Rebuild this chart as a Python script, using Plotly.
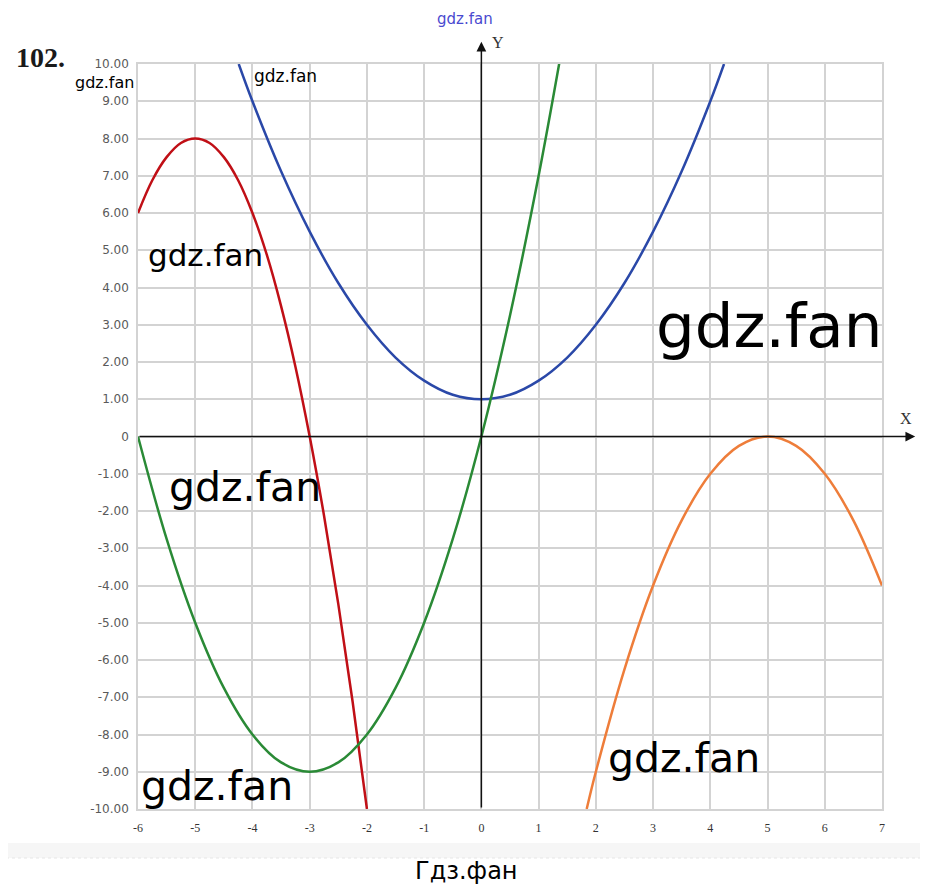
import plotly.graph_objects as go

# values
red_x = [-6, -5.75, -5.5, -5.25, -5, -4.75, -4.5, -4.25, -4, -3.75, -3.5, -3.25, -3, -2.75, -2.5, -2.25, -2]
red_y = [6, 6.88, 7.5, 7.88, 8, 7.88, 7.5, 6.88, 6, 4.88, 3.5, 1.88, 0, -2.12, -4.5, -7.12, -10]

blue_x = [-4.24, -4, -3.5, -3, -2.5, -2, -1.5, -1, -0.5, 0, 0.5, 1, 1.5, 2, 2.5, 3, 3.5, 4, 4.24]
blue_y = [10, 9, 7.12, 5.5, 4.12, 3, 2.12, 1.5, 1.12, 1, 1.12, 1.5, 2.12, 3, 4.12, 5.5, 7.12, 9, 10]

green_x = [-6, -5.5, -5, -4.5, -4, -3.5, -3, -2.5, -2, -1.5, -1, -0.5, 0, 0.5, 1, 1.37]
green_y = [0, -2.75, -5, -6.75, -8, -8.75, -9, -8.75, -8, -6.75, -5, -2.75, 0, 3.25, 7, 10.1]

orange_x = [1.84, 2, 2.5, 3, 3.5, 4, 4.5, 5, 5.5, 6, 6.5, 7]
orange_y = [-10, -9, -6.25, -4, -2.25, -1, -0.25, 0, -0.25, -1, -2.25, -4]

x_ticks = [-6, -5, -4, -3, -2, -1, 0, 1, 2, 3, 4, 5, 6, 7]
y_ticks = [10, 9, 8, 7, 6, 5, 4, 3, 2, 1, 0, -1, -2, -3, -4, -5, -6, -7, -8, -9, -10]
y_labels = ["10.00", "9.00", "8.00", "7.00", "6.00", "5.00", "4.00", "3.00", "2.00", "1.00", "0",
            "-1.00", "-2.00", "-3.00", "-4.00", "-5.00", "-6.00", "-7.00", "-8.00", "-9.00", "-10.00"]

fig = go.Figure()
for xs, ys, col in [(red_x, red_y, "#c00f16"), (blue_x, blue_y, "#2a48a8"),
                    (green_x, green_y, "#2a8a36"), (orange_x, orange_y, "#ee7d3a")]:
    fig.add_trace(go.Scatter(x=xs, y=ys, mode="lines",
                             line=dict(color=col, width=2.5, shape="spline", smoothing=1.0),
                             showlegend=False, hoverinfo="skip"))

grid = "#d3d3d3"
fig.update_xaxes(range=[-6, 7], tickvals=x_ticks, ticktext=[str(v) for v in x_ticks],
                 showgrid=True, gridcolor=grid, gridwidth=1.5, zeroline=False,
                 showline=True, mirror=True, linecolor=grid, linewidth=1.5,
                 ticks="outside", ticklen=7, tickcolor="rgba(0,0,0,0)",
                 tickfont=dict(family="Liberation Serif", size=12, color="#333333"))
fig.update_yaxes(range=[-10, 10], tickvals=y_ticks, ticktext=y_labels,
                 showgrid=True, gridcolor=grid, gridwidth=1.5, zeroline=False,
                 showline=True, mirror=True, linecolor=grid, linewidth=1.5,
                 ticks="outside", ticklen=5, tickcolor="rgba(0,0,0,0)",
                 tickfont=dict(family="DejaVu Sans", size=12, color="#5a5a5a"))

# page is offset by the browser's 8px body margin
OFF = 8
W, H = 920, 884
L, T = 138 - OFF, 64 - OFF
pw, ph = 744, 745
R = W - L - pw
B = H - T - ph


def px(xp):
    return (xp - OFF - L) / pw


def py(yp):
    return (H - (yp - OFF) - B) / ph


def txt(xp, yp, text, family, size, color):
    return dict(x=px(xp), y=py(yp), xref="paper", yref="paper", text=text, showarrow=False,
                xanchor="center", yanchor="middle",
                font=dict(family=family, size=size, color=color))


annotations = [
    # axis arrows
    dict(x=7.58, y=0, ax=-6, ay=0, xref="x", yref="y", axref="x", ayref="y", text="",
         showarrow=True, arrowhead=2, arrowsize=1.3, arrowwidth=1.5, arrowcolor="#111111"),
    dict(x=0, y=10.6, ax=0, ay=-10, xref="x", yref="y", axref="x", ayref="y", text="",
         showarrow=True, arrowhead=2, arrowsize=1.3, arrowwidth=1.5, arrowcolor="#111111"),
    txt(906, 418, "X", "Liberation Serif", 16, "#333333"),
    txt(498, 42, "Y", "Liberation Serif", 16, "#333333"),
    txt(40, 58, "<b>102.</b>", "Liberation Serif", 28, "#1a1a1a"),
    # watermarks
    txt(465, 19, "gdz.fan", "DejaVu Sans", 15, "#4a4ad0"),
    txt(104, 83, "gdz.fan", "DejaVu Sans", 16, "#000000"),
    txt(285, 76, "gdz.fan", "DejaVu Sans", 17, "#000000"),
    txt(205, 255, "gdz.fan", "DejaVu Sans", 31, "#000000"),
    txt(769, 325, "gdz.fan", "DejaVu Sans", 61, "#000000"),
    txt(245, 487, "gdz.fan", "DejaVu Sans", 41, "#000000"),
    txt(217, 786, "gdz.fan", "DejaVu Sans", 41, "#000000"),
    txt(684, 758, "gdz.fan", "DejaVu Sans", 41, "#000000"),
    txt(466, 871, "Гдз.фан", "DejaVu Sans", 24, "#000000"),
]

shapes = [
    dict(type="rect", xref="paper", yref="paper",
         x0=px(0), x1=px(928), y0=py(858), y1=py(843),
         fillcolor="#f6f6f6", line=dict(width=0), layer="below"),
    dict(type="line", xref="paper", yref="paper",
         x0=px(0), x1=px(928), y0=py(858), y1=py(858),
         line=dict(color="#e6e6e6", width=1, dash="dot")),
]

fig.update_layout(width=W, height=H, margin=dict(l=L, r=R, t=T, b=B, autoexpand=False),
                  plot_bgcolor="white", paper_bgcolor="white",
                  annotations=annotations, shapes=shapes, showlegend=False)

fig.write_html("out.html")
